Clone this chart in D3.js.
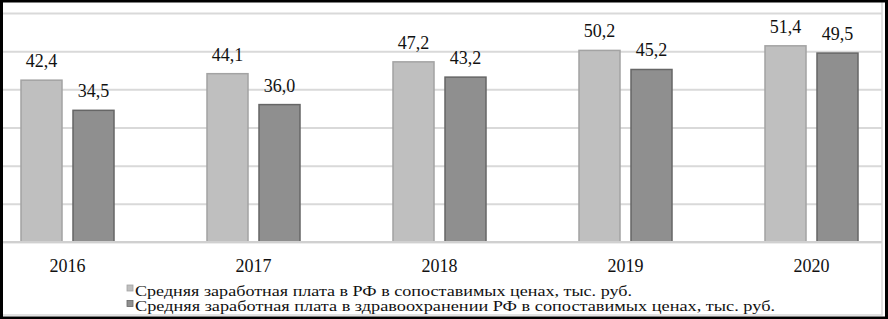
<!DOCTYPE html>
<html>
<head>
<meta charset="utf-8">
<script src="https://cdn.jsdelivr.net/npm/d3@7"></script>
<style>
  body { margin: 0; background: #fff; }
</style>
</head>
<body>
<div id="chart"></div>
<script>
// data
var years = ["2016", "2017", "2018", "2019", "2020"];
var avgRF = [42.4, 44.1, 47.2, 50.2, 51.4];
var avgHealth = [34.5, 36.0, 43.2, 45.2, 49.5];
var yTicks = [0, 10, 20, 30, 40, 50, 60];
var seriesNames = [
  "Средняя заработная плата в РФ в сопоставимых ценах, тыс. руб.",
  "Средняя заработная плата в здравоохранении РФ в сопоставимых ценах, тыс. руб."
];

var svgWidth = 888;
var svgHeight = 319;
var serif = "Liberation Serif, serif";

var svg = d3.select("#chart")
  .append("svg")
  .attr("width", svgWidth)
  .attr("height", svgHeight)
  .attr("font-family", serif);

// the picture is a crop of a wider chart, so the band range runs past the edges
var x0 = d3.scaleBand()
  .domain(years)
  .range([-25.5, 904.5])
  .paddingInner(0.5)
  .paddingOuter(0.25);

var x1 = d3.scaleBand()
  .domain([0, 1])
  .range([0, x0.bandwidth()])
  .paddingInner(11 / 52);

var y = d3.scaleLinear()
  .domain([0, 60])
  .range([242, 13]);

var rows = years.map(function(yr, i) {
  return { year: yr, values: [avgRF[i], avgHealth[i]] };
});

var fills = ["#bfbfbf", "#8f8f8f"];
var strokes = ["#a3a3a3", "#666666"];

// chart's own light frame
svg.append("rect")
  .attr("x", -10)
  .attr("y", -10)
  .attr("width", 892)
  .attr("height", 325)
  .attr("fill", "none")
  .attr("stroke", "#d9d9d9")
  .attr("stroke-width", 1.5);

// gridlines
var grid = d3.axisLeft(y)
  .tickValues(yTicks)
  .tickSize(-880)
  .tickFormat("");

svg.append("g")
  .attr("transform", "translate(2,0)")
  .call(grid)
  .call(function(g) {
    g.select(".domain").remove();
    g.selectAll("line").attr("stroke", "#d9d9d9").attr("stroke-width", 2);
  });

// bars
var groups = svg.selectAll(".year")
  .data(rows)
  .enter()
  .append("g")
  .attr("class", "year")
  .attr("transform", d => `translate(${x0(d.year)},0)`);

groups.selectAll("rect")
  .data(d => d.values.map((v, k) => ({ k: k, v: v })))
  .enter()
  .append("rect")
  .attr("x", d => x1(d.k))
  .attr("y", d => y(d.v))
  .attr("width", x1.bandwidth())
  .attr("height", d => y(0) - y(d.v))
  .attr("fill", d => fills[d.k])
  .attr("stroke", d => strokes[d.k])
  .attr("stroke-width", 1.5);

// value labels
groups.selectAll(".val")
  .data(d => d.values.map((v, k) => ({ k: k, v: v })))
  .enter()
  .append("text")
  .attr("class", "val")
  .attr("text-anchor", "middle")
  .attr("font-family", serif)
  .attr("font-size", 18)
  .attr("fill", "#111")
  .attr("x", d => x1(d.k) + x1.bandwidth() / 2)
  .attr("y", d => y(d.v) - 13)
  .text(d => d.v.toFixed(1).replace(".", ","));

// category axis
var bottomAxis = d3.axisBottom(x0).tickSize(0).tickPadding(17);
svg.append("g")
  .attr("transform", `translate(0, ${y(0)})`)
  .call(bottomAxis)
  .attr("font-family", serif)
  .attr("font-size", 18)
  .call(function(g) {
    g.select(".domain").remove();
    g.selectAll("text").attr("fill", "#111");
  });

// baseline
svg.append("line")
  .attr("x1", 2)
  .attr("x2", 882)
  .attr("y1", y(0))
  .attr("y2", y(0))
  .attr("stroke", "#d0d0d0")
  .attr("stroke-width", 2);

// legend
var legendWidths = [497, 640];
var legend = svg.selectAll(".legend")
  .data(seriesNames)
  .enter()
  .append("g")
  .attr("class", "legend")
  .attr("transform", (d, i) => `translate(127, ${285 + i * 15.5})`);

legend.append("rect")
  .attr("width", 6)
  .attr("height", 6)
  .attr("fill", (d, i) => fills[i])
  .attr("stroke", (d, i) => strokes[i])
  .attr("stroke-width", 0.8);

legend.append("text")
  .attr("x", 8)
  .attr("y", 10.5)
  .attr("font-family", serif)
  .attr("font-size", 15.5)
  .attr("fill", "#111")
  .attr("textLength", (d, i) => legendWidths[i])
  .attr("lengthAdjust", "spacingAndGlyphs")
  .text(d => d);

// outer black border
svg.append("rect")
  .attr("x", 1.5)
  .attr("y", 1)
  .attr("width", svgWidth - 3)
  .attr("height", svgHeight - 2)
  .attr("fill", "none")
  .attr("stroke", "#000")
  .attr("stroke-width", 3);
</script>
</body>
</html>
